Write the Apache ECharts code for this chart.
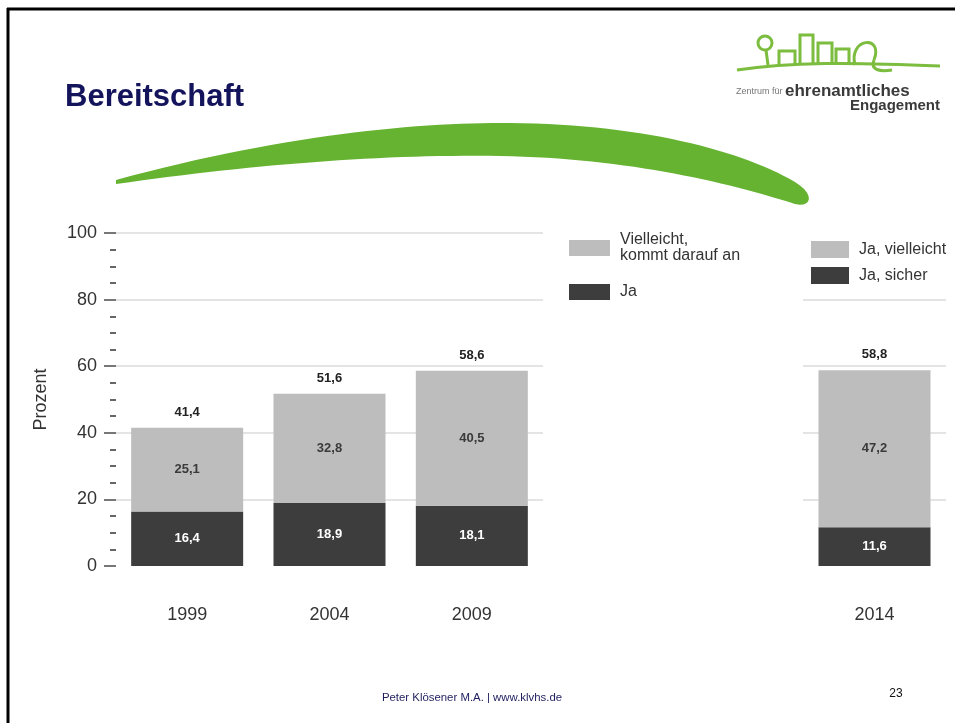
<!DOCTYPE html>
<html>
    <head>
        <meta charset="utf-8">
        <script src="https://cdn.jsdelivr.net/npm/echarts@6/dist/echarts.min.js"></script>
        <style>
            body { margin: 0; background: #fff; }
        </style>
    </head>
    <body>
        <div id="main" style="width: 955px; height: 723px;"></div>
        <script>
            // Daten 1999-2009 (linkes Diagramm)
            var jahre = ['1999', '2004', '2009'];
            var ja = [16.4, 18.9, 18.1];
            var vielleicht = [25.1, 32.8, 40.5];
            var summe = [41.4, 51.6, 58.6];

            // Daten 2014 (rechtes Diagramm)
            var jahre2014 = ['2014'];
            var jaSicher = [11.6];
            var jaVielleicht = [47.2];
            var summe2014 = [58.8];

            var NAME_VIELLEICHT = 'Vielleicht,\nkommt darauf an';
            var FONT = '"Liberation Sans", Arial, sans-serif';
            var HELL = '#bdbdbd';
            var DUNKEL = '#3d3d3d';
            var GITTER = '#e4e4e4';

            var chartDom = document.getElementById('main');
            var myChart = echarts.init(chartDom);
            var option;

            function fmt(v) {
                return v.toFixed(1).replace('.', ',');
            }

            // Punkte einer kubischen Bezierkurve (nur fuer die Dekoration)
            function bez(p0, p1, p2, p3, n) {
                var pts = [];
                for (var i = 0; i <= n; i++) {
                    var t = i / n, u = 1 - t;
                    pts.push([
                        u*u*u*p0[0] + 3*u*u*t*p1[0] + 3*u*t*t*p2[0] + t*t*t*p3[0],
                        u*u*u*p0[1] + 3*u*u*t*p1[1] + 3*u*t*t*p2[1] + t*t*t*p3[1]
                    ]);
                }
                return pts;
            }

            var bogen = []
                .concat(bez([116, 180], [280, 135], [420, 122], [510, 123], 30))
                .concat(bez([510, 123], [640, 124], [740, 150], [795, 182], 30))
                .concat(bez([795, 182], [815, 194], [812, 208], [795, 204], 10))
                .concat(bez([795, 204], [720, 180], [620, 158], [500, 156], 30))
                .concat(bez([500, 156], [380, 154], [250, 165], [116, 184], 30));

            function wertLabel(farbe) {
                return {
                    show: true,
                    position: 'inside',
                    color: farbe,
                    fontWeight: 'bold',
                    fontSize: 13,
                    fontFamily: FONT,
                    formatter: function (p) { return fmt(p.value); }
                };
            }

            function summenLabel(werte) {
                return {
                    show: true,
                    position: 'top',
                    distance: 9,
                    color: '#222',
                    fontWeight: 'bold',
                    fontSize: 13,
                    fontFamily: FONT,
                    formatter: function (p) { return fmt(werte[p.dataIndex]); }
                };
            }

            var gruen = '#7cbc3f';

            option = {
                animation: false,
                backgroundColor: '#fff',
                textStyle: { fontFamily: FONT },
                graphic: [
                    // Rahmen
                    { type: 'line', shape: { x1: 7, y1: 9, x2: 955, y2: 9 }, style: { stroke: '#000', lineWidth: 3 } },
                    { type: 'line', shape: { x1: 8, y1: 8, x2: 8, y2: 723 }, style: { stroke: '#000', lineWidth: 3 } },
                    // Titel
                    { type: 'text', x: 65, y: 97, style: { text: 'Bereitschaft', font: 'bold 31px ' + FONT, fill: '#14145c', textVerticalAlign: 'middle' } },
                    // gruener Bogen
                    { type: 'polygon', shape: { points: bogen }, style: { fill: '#66b331' } },
                    // Logo
                    { type: 'bezierCurve', shape: { x1: 737, y1: 70, cpx1: 790, cpy1: 62, cpx2: 850, cpy2: 62, x2: 940, y2: 66 }, style: { stroke: gruen, lineWidth: 3, fill: null } },
                    { type: 'circle', shape: { cx: 765, cy: 43, r: 7 }, style: { stroke: gruen, lineWidth: 3, fill: null } },
                    { type: 'line', shape: { x1: 766, y1: 50, x2: 768, y2: 65 }, style: { stroke: gruen, lineWidth: 3 } },
                    { type: 'polyline', shape: { points: [[779, 65], [779, 51], [795, 51], [795, 64]] }, style: { stroke: gruen, lineWidth: 3, fill: null } },
                    { type: 'polyline', shape: { points: [[800, 64], [800, 35], [813, 35], [813, 63]] }, style: { stroke: gruen, lineWidth: 3, fill: null } },
                    { type: 'polyline', shape: { points: [[818, 63], [818, 43], [832, 43], [832, 63]] }, style: { stroke: gruen, lineWidth: 3, fill: null } },
                    { type: 'polyline', shape: { points: [[836, 63], [836, 49], [849, 49], [849, 64]] }, style: { stroke: gruen, lineWidth: 3, fill: null } },
                    { type: 'bezierCurve', shape: { x1: 855, y1: 65, cpx1: 848, cpy1: 38, cpx2: 884, cpy2: 34, x2: 874, y2: 60 }, style: { stroke: gruen, lineWidth: 3, fill: null } },
                    { type: 'bezierCurve', shape: { x1: 874, y1: 60, cpx1: 870, cpy1: 70, cpx2: 880, cpy2: 72, x2: 892, y2: 70 }, style: { stroke: gruen, lineWidth: 3, fill: null } },
                    { type: 'text', x: 736, y: 92, style: { text: 'Zentrum für', font: '9px ' + FONT, fill: '#777', textVerticalAlign: 'middle' } },
                    { type: 'text', x: 785, y: 91, style: { text: 'ehrenamtliches', font: 'bold 17px ' + FONT, fill: '#3a3a3a', textVerticalAlign: 'middle' } },
                    { type: 'text', x: 940, y: 106, style: { text: 'Engagement', font: 'bold 15px ' + FONT, fill: '#3a3a3a', textAlign: 'right', textVerticalAlign: 'middle' } },
                    // Fusszeile
                    { type: 'text', x: 472, y: 698, style: { text: 'Peter Klösener M.A. | www.klvhs.de', font: '11.4px ' + FONT, fill: '#1e1e5e', textAlign: 'center', textVerticalAlign: 'middle' } },
                    { type: 'text', x: 896, y: 694, style: { text: '23', font: '12px ' + FONT, fill: '#111', textAlign: 'center', textVerticalAlign: 'middle' } }
                ],
                legend: [
                    {
                        data: [NAME_VIELLEICHT], left: 569, top: 232, padding: 0,
                        icon: 'rect', itemWidth: 41, itemHeight: 16,
                        textStyle: { fontSize: 16, lineHeight: 16, color: '#333', fontFamily: FONT, padding: [0, 0, 0, 5] }
                    },
                    {
                        data: ['Ja'], left: 569, top: 284, padding: 0,
                        icon: 'rect', itemWidth: 41, itemHeight: 16,
                        textStyle: { fontSize: 16, color: '#333', fontFamily: FONT, padding: [0, 0, 0, 5] }
                    },
                    {
                        data: ['Ja, vielleicht', 'Ja, sicher'], left: 811, top: 241, padding: 0,
                        orient: 'vertical', itemGap: 9,
                        icon: 'rect', itemWidth: 38, itemHeight: 17,
                        textStyle: { fontSize: 16, lineHeight: 17, color: '#333', fontFamily: FONT, padding: [0, 0, 0, 5] }
                    }
                ],
                grid: [
                    { left: 116, top: 233, width: 427, height: 333 },
                    { left: 803, top: 233, width: 143, height: 333 }
                ],
                xAxis: [
                    {
                        type: 'category', gridIndex: 0, data: jahre,
                        axisLine: { show: false }, axisTick: { show: false },
                        axisLabel: { fontSize: 18, color: '#333', margin: 40 }
                    },
                    {
                        type: 'category', gridIndex: 1, data: jahre2014,
                        axisLine: { show: false }, axisTick: { show: false },
                        axisLabel: { fontSize: 18, color: '#333', margin: 40 }
                    }
                ],
                yAxis: [
                    {
                        type: 'value', gridIndex: 0, min: 0, max: 100, interval: 20,
                        name: 'Prozent', nameLocation: 'middle', nameGap: 66,
                        nameTextStyle: { fontSize: 18, color: '#333' },
                        axisLine: { show: false },
                        axisTick: { show: true, length: 12, lineStyle: { color: '#777', width: 2 } },
                        minorTick: { show: true, splitNumber: 4, length: 6, lineStyle: { color: '#666', width: 2 } },
                        axisLabel: { fontSize: 18, color: '#333', margin: 19 },
                        splitLine: { lineStyle: { color: ['transparent', GITTER, GITTER, GITTER, GITTER, GITTER], width: 2 } }
                    },
                    {
                        type: 'value', gridIndex: 1, min: 0, max: 100, interval: 20,
                        axisLine: { show: false }, axisTick: { show: false }, axisLabel: { show: false },
                        splitLine: { lineStyle: { color: ['transparent', GITTER, GITTER, GITTER, GITTER, 'transparent'], width: 2 } }
                    }
                ],
                series: [
                    {
                        name: 'Ja', type: 'bar', stack: 'links', xAxisIndex: 0, yAxisIndex: 0,
                        barWidth: 112, data: ja, itemStyle: { color: DUNKEL },
                        label: wertLabel('#fff')
                    },
                    {
                        name: NAME_VIELLEICHT, type: 'bar', stack: 'links', xAxisIndex: 0, yAxisIndex: 0,
                        barWidth: 112, data: vielleicht, itemStyle: { color: HELL },
                        label: wertLabel('#3a3a3a')
                    },
                    {
                        name: 'SummeLinks', type: 'bar', stack: 'links', xAxisIndex: 0, yAxisIndex: 0,
                        barWidth: 112, data: summe.map(function () { return 0; }),
                        itemStyle: { color: 'transparent' },
                        label: summenLabel(summe)
                    },
                    {
                        name: 'Ja, sicher', type: 'bar', stack: 'rechts', xAxisIndex: 1, yAxisIndex: 1,
                        barWidth: 112, data: jaSicher, itemStyle: { color: DUNKEL },
                        label: wertLabel('#fff')
                    },
                    {
                        name: 'Ja, vielleicht', type: 'bar', stack: 'rechts', xAxisIndex: 1, yAxisIndex: 1,
                        barWidth: 112, data: jaVielleicht, itemStyle: { color: HELL },
                        label: wertLabel('#3a3a3a')
                    },
                    {
                        name: 'SummeRechts', type: 'bar', stack: 'rechts', xAxisIndex: 1, yAxisIndex: 1,
                        barWidth: 112, data: summe2014.map(function () { return 0; }),
                        itemStyle: { color: 'transparent' },
                        label: summenLabel(summe2014)
                    }
                ]
            };

            option && myChart.setOption(option);
        </script>
    </body>
</html>
